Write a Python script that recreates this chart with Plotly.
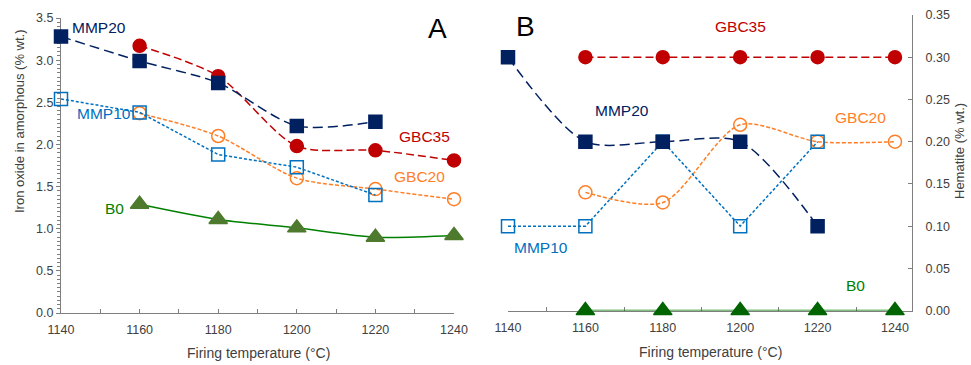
import plotly.graph_objects as go

# ---- data ----
temps = [1140, 1160, 1180, 1200, 1220, 1240]

# Panel A: iron oxide in amorphous (% wt.)
a_mmp20_x = [1140, 1160, 1180, 1200, 1220]
a_mmp20_y = [3.28, 2.99, 2.73, 2.22, 2.27]
a_gbc35_x = [1160, 1180, 1200, 1220, 1240]
a_gbc35_y = [3.17, 2.81, 1.98, 1.93, 1.81]
a_mmp10_x = [1140, 1160, 1180, 1200, 1220]
a_mmp10_y = [2.54, 2.38, 1.88, 1.73, 1.40]
a_gbc20_x = [1160, 1180, 1200, 1220, 1240]
a_gbc20_y = [2.37, 2.10, 1.60, 1.47, 1.35]
a_b0_x = [1160, 1180, 1200, 1220, 1240]
a_b0_y = [1.29, 1.11, 1.01, 0.90, 0.92]

# Panel B: hematite (% wt.)
b_gbc35_x = [1160, 1180, 1200, 1220, 1240]
b_gbc35_y = [0.30, 0.30, 0.30, 0.30, 0.30]
b_mmp20_x = [1140, 1160, 1180, 1200, 1220]
b_mmp20_y = [0.30, 0.20, 0.20, 0.20, 0.10]
b_mmp10_x = [1140, 1160, 1180, 1200, 1220]
b_mmp10_y = [0.10, 0.10, 0.20, 0.10, 0.20]
b_gbc20_x = [1160, 1180, 1200, 1220, 1240]
b_gbc20_y = [0.14, 0.128, 0.22, 0.20, 0.20]
b_b0_x = [1160, 1180, 1200, 1220, 1240]
b_b0_y = [0.0, 0.0, 0.0, 0.0, 0.0]

NAVY = "#002060"
RED = "#C00000"
BLUE = "#0070C0"
ORANGE = "#FF7F27"
GREEN = "#008000"
GREEN_M = "#4E7A2E"
GREEN_MB = "#006400"
FONT = "Liberation Sans, Arial, sans-serif"
AXC = "#7F7F7F"
TXT = "#404040"

fig = go.Figure()

def add(x, y, xa, ya, color, dash, symbol, size, shape="spline", mcolor=None, width=1.5):
    fig.add_trace(go.Scatter(
        x=x, y=y, xaxis=xa, yaxis=ya, mode="lines+markers",
        line=dict(color=color, dash=dash, width=width, shape=shape, smoothing=0.8),
        marker=dict(symbol=symbol, size=size, color=mcolor or color,
                    line=dict(color=mcolor or color, width=1.5)),
        cliponaxis=False, showlegend=False, hoverinfo="x+y"))

LONG = "10px,5px"
SHORT = "4px,2px"
DOT = "3px,2px"

# Panel A
add(a_b0_x, a_b0_y, "x", "y", GREEN, "solid", "triangle-up", 16, mcolor=GREEN_M)
add(a_gbc20_x, a_gbc20_y, "x", "y", ORANGE, SHORT, "circle-open", 13)
add(a_mmp10_x, a_mmp10_y, "x", "y", BLUE, DOT, "square-open", 13, shape="linear")
add(a_gbc35_x, a_gbc35_y, "x", "y", RED, "8px,4px", "circle", 13)
add(a_mmp20_x, a_mmp20_y, "x", "y", NAVY, LONG, "square", 13)

# Panel B
add(b_b0_x, b_b0_y, "x2", "y2", GREEN, "solid", "triangle-up", 16, mcolor=GREEN_MB)
add(b_gbc20_x, b_gbc20_y, "x2", "y2", ORANGE, SHORT, "circle-open", 13)
add(b_mmp10_x, b_mmp10_y, "x2", "y2", BLUE, DOT, "square-open", 13, shape="linear")
add(b_gbc35_x, b_gbc35_y, "x2", "y2", RED, "8px,4px", "circle", 13)
add(b_mmp20_x, b_mmp20_y, "x2", "y2", NAVY, LONG, "square", 13)

W, H = 971, 365
tickfont = dict(family=FONT, size=12.5, color=TXT)

fig.update_layout(
    width=W, height=H, margin=dict(l=0, r=0, t=0, b=0, pad=0, autoexpand=False),
    paper_bgcolor="white", plot_bgcolor="rgba(0,0,0,0)",
    font=dict(family=FONT),
    xaxis=dict(domain=[61 / W, 454 / W], range=[1140, 1240], dtick=20, tick0=1140,
               showline=True, linecolor=AXC, linewidth=1, ticks="inside", ticklen=4,
               tickcolor=AXC, minor=dict(dtick=10, ticks="inside", ticklen=4, tickcolor=AXC),
               showgrid=False, zeroline=False, tickfont=tickfont, anchor="y",
               ticklabelstandoff=5, layer="below traces", automargin=False),
    yaxis=dict(domain=[(H - 313) / H, (H - 18) / H], range=[0, 3.5], dtick=0.5,
               tickformat=".1f", showline=True, linecolor=AXC, linewidth=1,
               ticks="outside", ticklen=4, tickcolor=AXC,
               minor=dict(dtick=0.05, ticks="outside", ticklen=3, tickcolor=AXC),
               showgrid=False, zeroline=False, tickfont=tickfont, anchor="x",
               layer="below traces", automargin=False),
    xaxis2=dict(domain=[508 / W, 912 / W], range=[1140, 1244.4], dtick=20, tick0=1140,
                showline=True, linecolor=AXC, linewidth=1, ticks="inside", ticklen=4,
                tickcolor=AXC, minor=dict(dtick=10, ticks="inside", ticklen=4, tickcolor=AXC),
                showgrid=False, zeroline=False, tickfont=tickfont, anchor="y2",
                ticklabelstandoff=5, layer="below traces", automargin=False),
    yaxis2=dict(domain=[(H - 310.6) / H, (H - 15) / H], range=[0, 0.35], dtick=0.05,
                tickformat=".2f", side="right", showline=True, linecolor=AXC, linewidth=1,
                ticks="inside", ticklen=4, tickcolor=AXC,
                showgrid=False, zeroline=False, tickfont=tickfont, anchor="x2",
                ticklabelstandoff=10, layer="below traces", automargin=False),
)

# axis titles
titles = [
    ("Firing temperature (°C)", 258, 353, 0, 14),
    ("Firing temperature (°C)", 710, 352, 0, 14),
    ("Iron oxide in amorphous (% wt.)", 20, 121, -90, 13),
    ("Hematite (% wt.)", 959, 151, -90, 13),
]
for t, px, py, ang, s in titles:
    fig.add_annotation(x=px / W, y=(H - py) / H, xref="paper", yref="paper", text=t,
                       showarrow=False, textangle=ang, xanchor="center", yanchor="middle",
                       font=dict(family=FONT, size=s, color=TXT))

ann = [
    ("A", 1235.7, 3.37, "x", "y", "black", 28),
    ("MMP20", 1149.7, 3.39, "x", "y", NAVY, 15.5),
    ("MMP10", 1151.0, 2.37, "x", "y", BLUE, 15.5),
    ("GBC35", 1232.6, 2.10, "x", "y", RED, 15.5),
    ("GBC20", 1231.3, 1.62, "x", "y", ORANGE, 15.5),
    ("B0", 1153.5, 1.24, "x", "y", GREEN, 15.5),
    ("B", 1144.4, 0.336, "x2", "y2", "black", 28),
    ("GBC35", 1200.0, 0.336, "x2", "y2", RED, 15.5),
    ("MMP20", 1169.5, 0.2375, "x2", "y2", NAVY, 15.5),
    ("GBC20", 1231.0, 0.229, "x2", "y2", ORANGE, 15.5),
    ("MMP10", 1148.5, 0.075, "x2", "y2", BLUE, 15.5),
    ("B0", 1229.7, 0.030, "x2", "y2", GREEN, 15.5),
]
for t, x, y, xr, yr, c, s in ann:
    fig.add_annotation(x=x, y=y, xref=xr, yref=yr, text=t, showarrow=False,
                       font=dict(family=FONT, size=s, color=c))

fig.write_html("out.html")
